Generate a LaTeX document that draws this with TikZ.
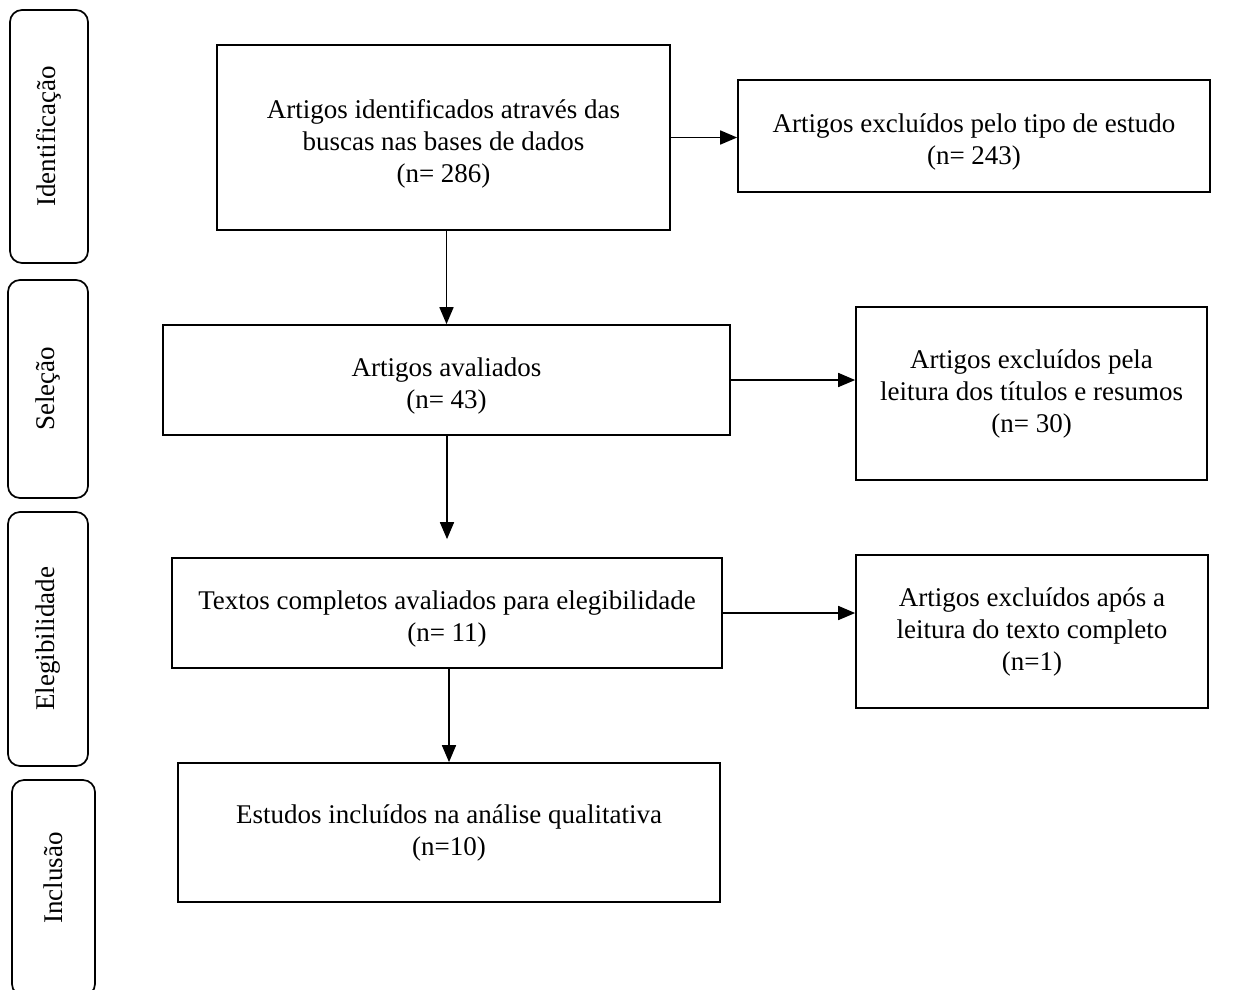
\documentclass[tikz,border=0pt]{standalone}
\usepackage{fontspec}
\setmainfont{Liberation Serif}
\usetikzlibrary{arrows.meta}
\newcommand{\topgap}{\rule{0pt}{31pt}}
\begin{document}
\begin{tikzpicture}[x=1pt,y=-1pt,
  box/.style={draw, line width=1.7pt, align=center, inner sep=0pt, font=\fontsize{27}{32}\selectfont},
  side/.style={draw, line width=1.7pt, rounded corners=12pt, rotate=90, inner sep=0pt, font=\fontsize{27}{32}\selectfont},
  arr/.style={line width=1.7pt, -{Triangle[length=17pt,width=14pt]}}]
\useasboundingbox (0,0) rectangle (1242,989);
% side labels
\node[side, minimum width=253pt, minimum height=78pt] (s1) at (49,136.5) {Identificação};
\node[side, minimum width=218pt, minimum height=80pt] (s2) at (48,389) {Seleção};
\node[side, minimum width=254pt, minimum height=80pt] (s3) at (48,639) {Elegibilidade};
\node[side, minimum width=216pt, minimum height=83pt] (s4) at (53.5,888) {\rule{20pt}{0pt}Inclusão};
% boxes
\node[box, minimum width=453pt, minimum height=185pt] (b1) at (443.5,137.5) {\topgap Artigos identificados através das\\buscas nas bases de dados\\(n= 286)};
\node[box, minimum width=472pt, minimum height=112pt] (b2) at (974,136) {\topgap Artigos excluídos pelo tipo de estudo\\(n= 243)};
\node[box, minimum width=567pt, minimum height=110pt] (b3) at (446.5,380) {\topgap Artigos avaliados\\(n= 43)};
\node[box, minimum width=351pt, minimum height=173pt] (b4) at (1031.5,393.5) {Artigos excluídos pela\\leitura dos títulos e resumos\\(n= 30)};
\node[box, minimum width=550pt, minimum height=110pt] (b5) at (447,613) {\topgap Textos completos avaliados para elegibilidade\\(n= 11)};
\node[box, minimum width=352pt, minimum height=153pt] (b6) at (1032,631.5) {Artigos excluídos após a\\leitura do texto completo\\(n=1)};
\node[box, minimum width=542pt, minimum height=139pt] (b7) at (449,832.5) {Estudos incluídos na análise qualitativa\\(n=10)};
% connectors
\draw[arr] (b1.east) -- (b1.east -| b2.west);
\draw[arr] (b3.north |- b1.south) -- (b3.north);
\draw[arr] (b3.east) -- (b3.east -| b4.west);
\draw[arr, shorten >=18pt] (b5.north |- b3.south) -- (b5.north);
\draw[arr] (b5.east) -- (b5.east -| b6.west);
\draw[arr] (b7.north |- b5.south) -- (b7.north);
\end{tikzpicture}
\end{document}
